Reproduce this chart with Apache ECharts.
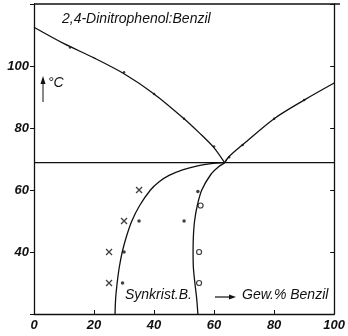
<!DOCTYPE html>
<html>
<head>
<meta charset="utf-8">
<script src="https://cdn.jsdelivr.net/npm/echarts@6/dist/echarts.min.js"></script>
<style>
  html, body { margin: 0; padding: 0; background: #fff; }
  #chart { width: 348px; height: 336px; }
</style>
</head>
<body>
<div id="chart"></div>
<script>
// liquidus branches (wt% benzil, deg C)
var liqLeft = [[0, 112.5], [10, 107.2], [20, 102.6], [30, 97.5], [40, 91], [50, 83], [55, 78.5], [60, 73.6], [63.5, 68.8]];
var liqRight = [[63.5, 68.8], [65, 70.8], [70, 75], [80, 83], [90, 89], [100, 94.5]];
var eutectic = [[0, 68.8], [100, 68.8]];
// boundaries of the syncrystallization region
var synLeft = [[27, 20], [27.2, 25], [27.7, 30], [28.4, 35], [29.4, 40], [30.8, 45], [32.6, 50], [35.2, 55], [38.8, 60], [41.6, 62.6], [45, 64.7], [49.5, 66.5], [54.5, 67.8], [59, 68.5], [63.5, 68.8]];
var synRight = [[54.6, 20], [54.2, 25], [53.6, 30], [53.1, 35], [53, 40], [53.1, 45], [53.5, 50], [54.4, 55], [55.9, 60], [58.9, 65], [61.5, 67.5], [63.5, 68.8], [64.2, 70]];
// observed points
var liqDots = [[12, 106], [30, 98], [40, 91], [50, 83], [60, 74], [65, 70.6], [69.5, 74.5], [80, 83], [90, 89]];
var crossPts = [[35, 60], [30, 50], [25, 40], [25, 30]];
var dotPts = [[35, 50], [30, 40], [29.5, 30], [50, 50], [54.6, 59.5]];
var ringPts = [[55.5, 55], [55, 40], [55, 30]];
var xTicks = [0, 20, 40, 60, 80, 100];
var yTicks = [40, 60, 80, 100];

var chart = echarts.init(document.getElementById('chart'));
var font = 'Liberation Sans';
var ink = '#111';
var lineStyle = { color: ink, width: 1.3 };

function curve(data) {
    return {
        type: 'line', data: data, smooth: 0.3, symbol: 'none',
        lineStyle: lineStyle, silent: true
    };
}

var cross = 'path://M0,0L10,10M10,0L0,10';
var labelStyle = {
    color: ink, fontFamily: font, fontStyle: 'italic', fontWeight: 'bold', fontSize: 13, margin: 5
};

chart.setOption({
    animation: false,
    grid: { left: 34, right: 8, top: 4, bottom: 22 },
    xAxis: {
        type: 'value', min: 0, max: 100, interval: 20,
        axisLine: { show: true, lineStyle: { color: ink, width: 1.3 } },
        axisTick: { show: true, inside: true, length: 4, lineStyle: { color: ink } },
        splitLine: { show: false },
        axisLabel: Object.assign({}, labelStyle, {
            formatter: function (v) { return xTicks.indexOf(v) >= 0 ? String(v) : ''; }
        })
    },
    yAxis: [{
        type: 'value', min: 20, max: 120, interval: 20,
        axisLine: { show: true, lineStyle: { color: ink, width: 1.3 } },
        axisTick: { show: true, length: 4, lineStyle: { color: ink } },
        splitLine: { show: false },
        axisLabel: Object.assign({}, labelStyle, {
            formatter: function (v) { return yTicks.indexOf(v) >= 0 ? String(v) : ''; }
        })
    }, {
        type: 'value', min: 20, max: 120, interval: 20, position: 'right',
        axisLine: { show: true, lineStyle: { color: ink, width: 1.3 } },
        axisTick: { show: true, inside: true, length: 4, lineStyle: { color: ink } },
        splitLine: { show: false },
        axisLabel: { show: false }
    }],
    graphic: [
        { type: 'line', shape: { x1: 34, y1: 4, x2: 340, y2: 4 }, style: { stroke: ink, lineWidth: 1.3 }, silent: true },
        { type: 'text', left: 62, top: 12, style: { text: '2,4-Dinitrophenol:Benzil', font: 'italic 14px "Liberation Sans"', fill: ink } },
        { type: 'line', shape: { x1: 43, y1: 82, x2: 43, y2: 102 }, style: { stroke: ink, lineWidth: 1 }, silent: true },
        { type: 'polygon', shape: { points: [[43, 76], [40.5, 84], [45.5, 84]] }, style: { fill: ink }, silent: true },
        { type: 'text', left: 48, top: 76, style: { text: '°C', font: 'italic 14px "Liberation Sans"', fill: ink } },
        { type: 'text', left: 125, top: 288, style: { text: 'Synkrist.B.', font: 'italic 14px "Liberation Sans"', fill: ink } },
        { type: 'line', shape: { x1: 215, y1: 297, x2: 230, y2: 297 }, style: { stroke: ink, lineWidth: 1.2 }, silent: true },
        { type: 'polygon', shape: { points: [[236, 297], [229, 294.5], [229, 299.5]] }, style: { fill: ink }, silent: true },
        { type: 'text', left: 242, top: 288, style: { text: 'Gew.% Benzil', font: 'italic 14px "Liberation Sans"', fill: ink } }
    ],
    series: [
        curve(liqLeft),
        curve(liqRight),
        { type: 'line', data: eutectic, symbol: 'none', lineStyle: lineStyle, silent: true },
        curve(synLeft),
        curve(synRight),
        { type: 'scatter', data: liqDots, symbol: 'circle', symbolSize: 2.5, itemStyle: { color: ink }, silent: true },
        { type: 'scatter', data: dotPts, symbol: 'circle', symbolSize: 3.5, itemStyle: { color: ink }, silent: true },
        { type: 'scatter', data: crossPts, symbol: cross, symbolSize: 6, itemStyle: { color: 'none', borderColor: ink, borderWidth: 1.3 }, silent: true },
        { type: 'scatter', data: ringPts, symbol: 'circle', symbolSize: 5, itemStyle: { color: '#fff', borderColor: ink, borderWidth: 1.2 }, silent: true }
    ]
});
</script>
</body>
</html>
